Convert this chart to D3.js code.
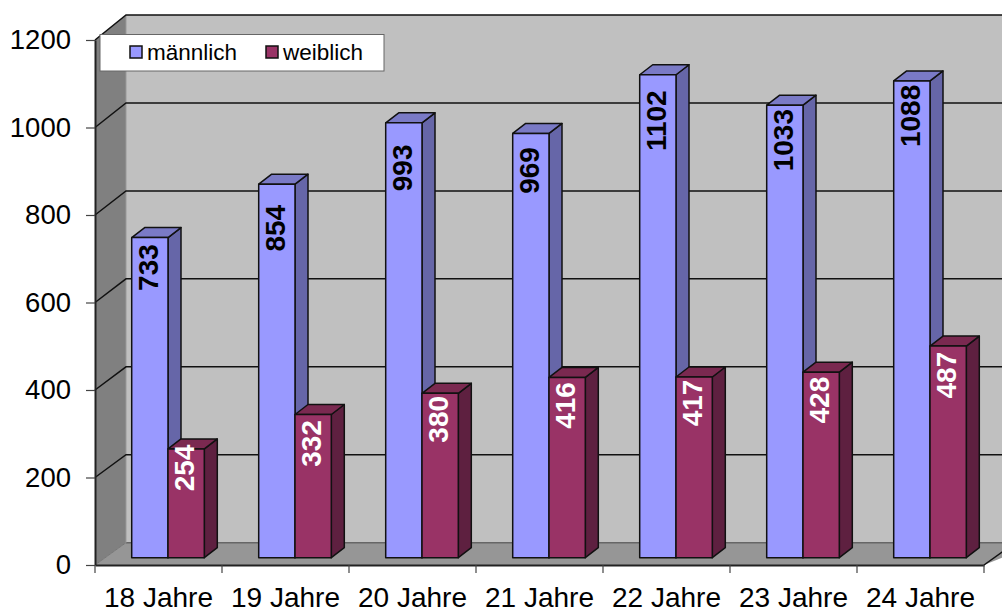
<!DOCTYPE html>
<html>
<head>
<meta charset="utf-8">
<script src="https://cdn.jsdelivr.net/npm/d3@7"></script>
<style>
  html, body { margin: 0; padding: 0; background: #fff; }
  svg { display: block; font-family: "Liberation Sans", Arial, sans-serif; }
</style>
</head>
<body>
<svg width="1002" height="608"></svg>
<script>
const categories = ["18 Jahre", "19 Jahre", "20 Jahre", "21 Jahre", "22 Jahre", "23 Jahre", "24 Jahre"];
const maleValues = [733, 854, 993, 969, 1102, 1033, 1088];
const femaleValues = [254, 332, 380, 416, 417, 428, 487];
const seriesNames = ["männlich", "weiblich"];
const yTicks = [0, 200, 400, 600, 800, 1000, 1200];

const svg = d3.select("svg");
const front = { left: 95, right: 984, top: 40, bottom: 565 };
const backX = 126;
const barFloor = 557.7; // bars stand a little behind the front edge of the floor
const barDepth = { dx: 13, dy: -10 };

const x = d3.scaleBand().domain(categories).range([front.left, front.right]);
const y = d3.scaleLinear().domain([0, 1200]).range([front.bottom, front.top]);
// the chart is drawn in perspective, so the wall and the bars have their own scales
const wallY = d3.scaleLinear().domain([0, 1200]).range([542.7, 15]);
const barY = d3.scaleLinear().domain([0, 1200]).range([561, 31.5]);
const inner = d3.scaleBand().domain(seriesNames).range([36.7, 109.3]);

const colors = {
  "männlich": { face: "#9999ff", top: "#7a7ac6", side: "#6666a8", text: "#000" },
  "weiblich": { face: "#993366", top: "#7a2950", side: "#5e2040", text: "#fff" }
};

// small hand nudges, the labels in the original are not evenly placed
const maleNudge = [0, 14, 15, 7, 16, 5, 5];
const femaleNudge = [-11, -1, -4, -2, -4, -2, -1];

function poly(points, fill, stroke) {
  return svg.append("path")
    .attr("d", d3.line()(points) + "Z")
    .attr("fill", fill)
    .attr("stroke", stroke || "none")
    .attr("stroke-width", 1.5)
    .attr("stroke-linejoin", "round");
}

function drawWalls() {
  const l = front.left, r = 1040, t = y(1200), b = y(0);
  const wt = wallY(1200), wb = wallY(0);
  poly([[backX, wt], [r, wt], [r, wb], [backX, wb]], "#c0c0c0");
  poly([[l, t], [backX, wt], [backX, wb], [l, b]], "#808080");
  poly([[l, b], [backX, wb], [r, wb], [front.right, b]], "#969696");

  svg.append("line").attr("x1", backX).attr("x2", r)
    .attr("y1", wb).attr("y2", wb)
    .attr("stroke", "#666").attr("stroke-width", 1.5);
  svg.append("line").attr("x1", backX).attr("x2", l)
    .attr("y1", wb).attr("y2", b)
    .attr("stroke", "#777").attr("stroke-width", 1);
  svg.append("line").attr("x1", backX).attr("x2", backX)
    .attr("y1", wt).attr("y2", wb)
    .attr("stroke", "#999").attr("stroke-width", 1);
  svg.append("path")
    .attr("d", `M${front.right} ${b} L${front.right + 31} ${wb}`)
    .attr("stroke", "#111").attr("stroke-width", 1.5);

  // gridlines run along the side wall and then across the back
  svg.append("g").selectAll("path")
    .data(yTicks.filter(d => d > 0))
    .join("path")
    .attr("d", d => `M${l} ${y(d)} L${backX} ${wallY(d)} L${r} ${wallY(d)}`)
    .attr("fill", "none")
    .attr("stroke", "#111")
    .attr("stroke-width", 1.5);
}

function drawBar(cat, name, value, nudge) {
  const c = colors[name];
  const x0 = x(cat) + inner(name);
  const x1 = x0 + inner.bandwidth();
  const b = barFloor;
  const t = barY(value);
  const { dx, dy } = barDepth;

  poly([[x1, t], [x1 + dx, t + dy], [x1 + dx, b + dy], [x1, b]], c.side, "#111");
  poly([[x0, t], [x0 + dx, t + dy], [x1 + dx, t + dy], [x1, t]], c.top, "#111");
  poly([[x0, t], [x1, t], [x1, b], [x0, b]], c.face, "#111");

  svg.append("text")
    .attr("transform", `translate(${(x0 + x1) / 2},${t + 30 + nudge}) rotate(-90)`)
    .attr("text-anchor", "middle")
    .attr("dy", "0.28em")
    .attr("font-size", 28)
    .attr("font-weight", "bold")
    .attr("fill", c.text)
    .text(value);
}

function drawBars() {
  categories.forEach((cat, i) => {
    drawBar(cat, seriesNames[0], maleValues[i], maleNudge[i]);
    drawBar(cat, seriesNames[1], femaleValues[i], femaleNudge[i]);
  });
}

function drawAxes() {
  const yAxis = svg.append("g")
    .attr("transform", `translate(${front.left},0)`)
    .call(d3.axisLeft(y).tickValues(yTicks).tickFormat(d3.format("d")).tickSize(9).tickPadding(15).tickSizeOuter(0));
  yAxis.select(".domain").attr("stroke", "#222").attr("stroke-width", 2);
  yAxis.selectAll(".tick line").attr("stroke", "#444").attr("stroke-width", 1.2);
  yAxis.selectAll("text").attr("font-size", 27.5).attr("font-family", "Liberation Sans").attr("fill", "#000");

  const xAxis = svg.append("g")
    .attr("transform", `translate(0,${front.bottom})`)
    .call(d3.axisBottom(x).tickSize(0).tickPadding(22).tickSizeOuter(0));
  xAxis.select(".domain").attr("stroke", "#222").attr("stroke-width", 2);
  xAxis.selectAll("text").attr("font-size", 28).attr("font-family", "Liberation Sans").attr("fill", "#000");

  // ticks sit between the categories
  svg.append("g").selectAll("line")
    .data(categories.concat("end"))
    .join("line")
    .attr("x1", d => d === "end" ? front.right : x(d))
    .attr("x2", d => d === "end" ? front.right : x(d))
    .attr("y1", front.bottom)
    .attr("y2", front.bottom + 8)
    .attr("stroke", "#444")
    .attr("stroke-width", 1.2);
}

function drawLegend() {
  const g = svg.append("g");
  g.append("rect")
    .attr("x", 100).attr("y", 34.5)
    .attr("width", 284).attr("height", 36.5)
    .attr("fill", "#fff").attr("stroke", "#666").attr("stroke-width", 1);

  const item = g.selectAll("g.item")
    .data(seriesNames)
    .join("g")
    .attr("class", "item")
    .attr("transform", (d, i) => `translate(${[130, 266][i]},46)`);
  item.append("rect")
    .attr("width", 12).attr("height", 12)
    .attr("fill", d => colors[d].face)
    .attr("stroke", "#111").attr("stroke-width", 1.5);
  item.append("text")
    .attr("x", 17).attr("y", 14)
    .attr("font-size", 22.5)
    .text(d => d);
}

drawWalls();
drawBars();
drawAxes();
drawLegend();
</script>
</body>
</html>
